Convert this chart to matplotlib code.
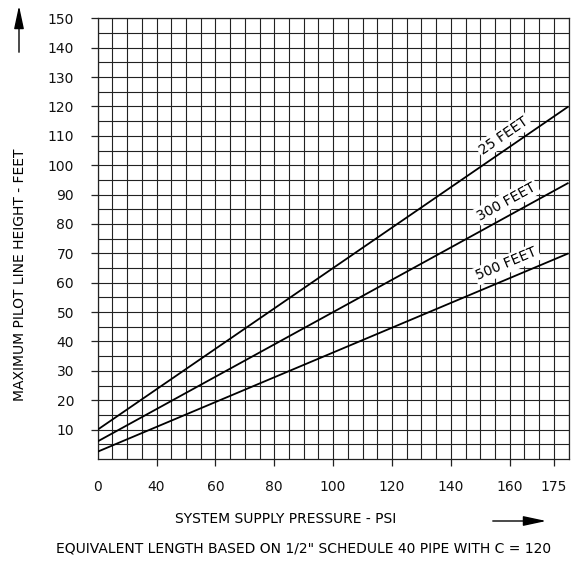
import numpy as np
from matplotlib import pyplot as plt
from matplotlib import ticker

# pipe length curves (psi -> feet)
pressure_psi = [0, 180]
height_25ft = [10, 120]
height_300ft = [6, 94]
height_500ft = [2.5, 70]

curve_labels = ['25 FEET', '300 FEET', '500 FEET']
label_psi = [158, 159, 159]

x_ticks = [0, 40, 60, 80, 100, 120, 140, 160, 175]
y_ticks = [10, 20, 30, 40, 50, 60, 70, 80, 90, 100, 110, 120, 130, 140, 150]
x_grid = [10, 20, 30] + list(range(40, 181, 5))
y_grid = list(range(5, 151, 5))


# the pressure axis is squeezed below 40 psi: 10 psi per cell there, 5 after
def fwd(x):
    x = np.asarray(x, dtype=float)
    return np.where(x <= 40, x / 10.0, 4 + (x - 40) / 5.0)


def inv(u):
    u = np.asarray(u, dtype=float)
    return np.where(u <= 4, u * 10.0, 40 + (u - 4) * 5.0)


fig = plt.figure(figsize=(5.72, 5.63), dpi=100)
ax = fig.add_axes([0.1708, 0.1847, 0.8231, 0.7828])
ax.set_xscale('function', functions=(fwd, inv))
ax.set_xlim(0, 180)
ax.set_ylim(0, 150)

ax.xaxis.set_major_locator(ticker.FixedLocator(x_ticks))
ax.xaxis.set_major_formatter(ticker.FixedFormatter([str(t) for t in x_ticks]))
ax.xaxis.set_minor_locator(ticker.FixedLocator(x_grid))
ax.xaxis.set_minor_formatter(ticker.NullFormatter())
ax.yaxis.set_major_locator(ticker.FixedLocator(y_ticks))
ax.yaxis.set_minor_locator(ticker.FixedLocator(y_grid))
ax.yaxis.set_minor_formatter(ticker.NullFormatter())

ax.tick_params(which='major', direction='out', length=5, width=0.9, color='#222222',
               labelsize=10, pad=10, labelcolor='#111111')
ax.tick_params(axis='y', which='major', pad=12)
ax.tick_params(which='minor', length=0)
ax.xaxis.get_major_ticks()[0].tick1line.set_visible(False)

ax.grid(which='both', color='#222222', linewidth=0.8)
ax.set_axisbelow(True)
for s in ax.spines.values():
    s.set_color('#222222')
    s.set_linewidth(0.9)

curves = [height_25ft, height_300ft, height_500ft]
for h in curves:
    ax.plot(pressure_psi, h, color='black', lw=1.3, solid_capstyle='butt', zorder=3)

for h, lab, px in zip(curves, curve_labels, label_psi):
    p0 = ax.transData.transform((pressure_psi[0], h[0]))
    p1 = ax.transData.transform((pressure_psi[1], h[1]))
    ang = np.degrees(np.arctan2(p1[1] - p0[1], p1[0] - p0[0]))
    yl = np.interp(fwd(px), fwd(pressure_psi), h)
    ax.annotate(lab, xy=(px, yl), xytext=(0, 11), textcoords='offset points',
                ha='center', va='center', rotation=ang, rotation_mode='anchor',
                fontsize=10, zorder=2,
                bbox=dict(boxstyle='square,pad=0.15', fc='white', ec='none'))

fig.text(20 / 572, 1 - 275 / 563, 'MAXIMUM PILOT LINE HEIGHT - FEET',
         rotation=90, ha='center', va='center', fontsize=10)
fig.text(286 / 572, 1 - 519 / 563, 'SYSTEM SUPPLY PRESSURE - PSI',
         ha='center', va='center', fontsize=10)
fig.text(304 / 572, 1 - 549 / 563,
         'EQUIVALENT LENGTH BASED ON 1/2" SCHEDULE 40 PIPE WITH C = 120',
         ha='center', va='center', fontsize=10)

ax.annotate('', xy=(19 / 572, 1 - 3 / 563), xytext=(19 / 572, 1 - 55 / 563),
            xycoords='figure fraction', textcoords='figure fraction',
            arrowprops=dict(arrowstyle='-|>,head_length=1.4,head_width=0.3',
                            color='black', lw=1), annotation_clip=False)
ax.annotate('', xy=(549 / 572, 1 - 521 / 563), xytext=(490 / 572, 1 - 521 / 563),
            xycoords='figure fraction', textcoords='figure fraction',
            arrowprops=dict(arrowstyle='-|>,head_length=1.4,head_width=0.3',
                            color='black', lw=1), annotation_clip=False)

plt.savefig('out.png', dpi=100, facecolor='w')
